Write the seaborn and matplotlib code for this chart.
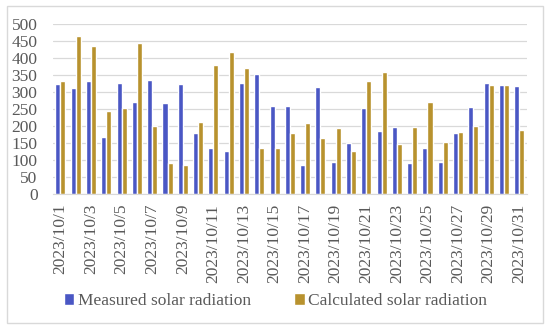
import pandas as pd
import numpy as np
import matplotlib.pyplot as plt
import seaborn as sns
from matplotlib.patches import Rectangle

# October 2023 daily solar radiation
days = [f"2023/10/{d}" for d in range(1, 32)]
measured = [325, 311, 332, 168, 327, 270, 335, 268, 324, 181,
            134, 126, 327, 353, 260, 259, 85, 316, 94, 151,
            254, 184, 197, 90, 135, 94, 181, 255, 327, 322, 318]
calculated = [332, 465, 435, 243, 254, 445, 199, 91, 84, 212,
              379, 419, 370, 134, 134, 180, 208, 165, 195, 126,
              334, 360, 147, 196, 270, 153, 183, 201, 322, 322, 188]
series_names = ["Measured solar radiation", "Calculated solar radiation"]

df = pd.DataFrame({"day": days * 2,
                   "value": measured + calculated,
                   "series": [series_names[0]] * len(days) + [series_names[1]] * len(days)})

sns.set_style("white")
plt.rcParams['font.family'] = ['Liberation Serif', 'DejaVu Serif']

fig = plt.figure(figsize=(5.5, 3.3), dpi=100)
ax = fig.add_axes([0.096, 0.412, 0.862, 0.515])

sns.barplot(data=df, x="day", y="value", hue="series", order=days,
            hue_order=series_names, palette=["#4A57C4", "#B8922E"],
            width=0.66, saturation=1, ax=ax)

ax.set_ylim(0, 500)
ax.set_xlim(-0.5, len(days) - 0.5)
ax.set_yticks(range(0, 501, 50))
ax.yaxis.grid(True, color="#D9D9D9", linewidth=0.9)
ax.set_axisbelow(True)
for s in ["top", "right", "left"]:
    ax.spines[s].set_visible(False)
ax.spines["bottom"].set_color("#D9D9D9")

ax.set_xticks(range(0, len(days), 2))
ax.set_xticklabels(days[::2], rotation=90)
ax.tick_params(axis="both", length=0, labelsize=12.5, colors="#595959")
ax.tick_params(axis="y", pad=11)
ax.tick_params(axis="x", pad=7)
ax.set_xlabel("")
ax.set_ylabel("")

ax.legend(loc="center", bbox_to_anchor=(0.47, -0.63), ncol=2, frameon=False,
          fontsize=12.5, handlelength=0.6, handleheight=0.7, handletextpad=0.2,
          columnspacing=2.5, labelcolor="#595959")

fig.patches.append(Rectangle((0.012, 0.022), 0.975, 0.96, transform=fig.transFigure,
                             fill=False, edgecolor="#D9D9D9", linewidth=1))

plt.savefig("out.png", dpi=100)
